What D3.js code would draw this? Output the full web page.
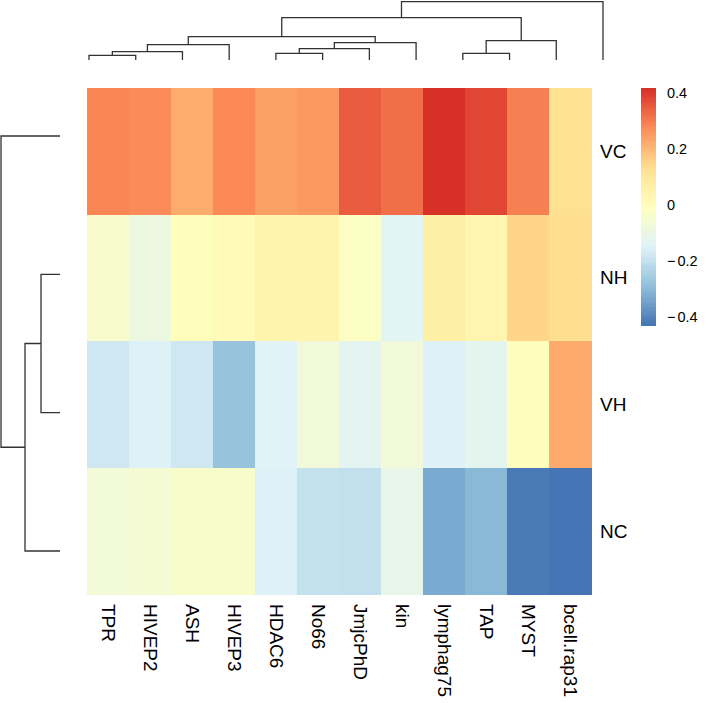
<!DOCTYPE html>
<html>
<head>
<meta charset="utf-8">
<script src="https://cdn.jsdelivr.net/npm/d3@7"></script>
<style>
  html, body { margin: 0; padding: 0; background: #fff; }
  svg { display: block; }
  text { font-family: "Liberation Sans", Arial, Helvetica, sans-serif; fill: #000; }
</style>
</head>
<body>
<svg id="chart" width="709" height="703"></svg>
<script>
// ---------------- data ----------------
const rowNames = ["VC", "NH", "VH", "NC"];
const colNames = ["TPR", "HIVEP2", "ASH", "HIVEP3", "HDAC6", "No66", "JmjcPhD", "kin",
                  "lymphag75", "TAP", "MYST", "bcell.rap31"];

const valuesVC = [0.287, 0.280, 0.225, 0.282, 0.247, 0.256, 0.351, 0.324, 0.418, 0.385, 0.297, 0.132];
const valuesNH = [-0.037, -0.086, 0.004, 0.018, 0.045, 0.047, -0.015, -0.135, 0.066, 0.040, 0.155, 0.138];
const valuesVH = [-0.178, -0.150, -0.178, -0.275, -0.142, -0.070, -0.127, -0.070, -0.150, -0.125, -0.002, 0.228];
const valuesNC = [-0.064, -0.055, -0.035, -0.035, -0.150, -0.195, -0.200, -0.110, -0.327, -0.299, -0.418, -0.427];

const legendTicks = [0.4, 0.2, 0, -0.2, -0.4];

// hclust-style merges (negative = leaf index, 1-based; positive = earlier merge)
const colMerge  = [[-1, -2], [1, -3], [2, -4], [-5, -6], [4, -7], [5, -8], [3, 6],
                   [-9, -10], [8, -11], [7, 9], [10, -12]];
const colHeight = [4.7, 8.3, 15.3, 6.7, 11.3, 17.3, 23.3, 6.7, 19.3, 42.3, 58.3];
const rowMerge  = [[-2, -3], [1, -4], [-1, 2]];
const rowHeight = [19, 35, 59];

const palette = ["#4575B4", "#91BFDB", "#E0F3F8", "#FFFFBF", "#FEE090", "#FC8D59", "#D73027"];

// ---------------- layout ----------------
const svg = d3.select("#chart");
svg.append("rect").attr("width", 709).attr("height", 703).attr("fill", "#fff");

const matrix = [valuesVC, valuesNH, valuesVH, valuesNC];
const cells = [];
matrix.forEach((row, i) => row.forEach((v, j) => cells.push({ r: rowNames[i], c: colNames[j], v })));

const lo = d3.min(cells, d => d.v), hi = d3.max(cells, d => d.v);
const color = d3.scaleLinear()
  .domain(d3.range(palette.length).map(i => lo + i * (hi - lo) / (palette.length - 1)))
  .range(palette)
  .interpolate(d3.interpolateRgb);

const x = d3.scaleBand().domain(colNames).range([87, 591]).paddingInner(0).paddingOuter(0);
const y = d3.scaleBand().domain(rowNames).range([88, 594.5]).paddingInner(0).paddingOuter(0);

// heatmap cells
svg.append("g").selectAll("rect").data(cells).join("rect")
  .attr("x", d => x(d.c))
  .attr("y", d => y(d.r))
  .attr("width", x.bandwidth() + 0.5)
  .attr("height", y.bandwidth() + 0.5)
  .attr("fill", d => color(d.v))
  .attr("shape-rendering", "crispEdges");

// row labels
svg.append("g").selectAll("text").data(rowNames).join("text")
  .attr("x", 600)
  .attr("y", d => y(d) + y.bandwidth() / 2)
  .attr("dominant-baseline", "central")
  .style("font-size", "19px")
  .text(d => d);

// column labels (rotated, reading top to bottom)
svg.append("g").selectAll("text").data(colNames).join("text")
  .attr("transform", d => `translate(${x(d) + x.bandwidth() / 2},604) rotate(90)`)
  .attr("dominant-baseline", "central")
  .style("font-size", "19px")
  .text(d => d);

// ---------------- dendrograms ----------------
function dendroSegments(merge, heights) {
  const pos = [], hgt = [];
  const paths = [];
  const getPos = (k, leafPos) => k < 0 ? [leafPos(-k - 1), 0] : [pos[k - 1], hgt[k - 1]];
  return function (leafPos) {
    merge.forEach((m, i) => {
      const [p1, h1] = getPos(m[0], leafPos);
      const [p2, h2] = getPos(m[1], leafPos);
      pos[i] = (p1 + p2) / 2;
      hgt[i] = heights[i];
      paths.push({ p1, h1, p2, h2, h: heights[i] });
    });
    return paths;
  };
}

// column dendrogram (top)
const colLeaf = d3.scaleLinear().domain([0, colNames.length - 1]).range([89, 603]);
const colH = d3.scaleLinear().domain([0, d3.max(colHeight)]).range([60, 1.7]);
const colSegs = dendroSegments(colMerge, colHeight)(i => colLeaf(i));
svg.append("g").selectAll("path").data(colSegs).join("path")
  .attr("d", s => `M${s.p1},${colH(s.h1)}V${colH(s.h)}H${s.p2}V${colH(s.h2)}`)
  .attr("fill", "none").attr("stroke", "#333").attr("stroke-width", 1.3);

// row dendrogram (left)
const rowLeaf = d3.scaleLinear().domain([0, rowNames.length - 1]).range([136, 551]);
const rowH = d3.scaleLinear().domain([0, d3.max(rowHeight)]).range([60, 1]);
const rowSegs = dendroSegments(rowMerge, rowHeight)(i => rowLeaf(i));
svg.append("g").selectAll("path").data(rowSegs).join("path")
  .attr("d", s => `M${rowH(s.h1)},${s.p1}H${rowH(s.h)}V${s.p2}H${rowH(s.h2)}`)
  .attr("fill", "none").attr("stroke", "#333").attr("stroke-width", 1.3);

// ---------------- legend ----------------
const legY = d3.scaleLinear().domain([lo, hi]).range([325, 88.3]);
const nSteps = 100;
const steps = d3.range(nSteps).map(i => lo + (i + 0.5) * (hi - lo) / nSteps);
const stepH = (legY(lo) - legY(hi)) / nSteps;
svg.append("g").selectAll("rect").data(steps).join("rect")
  .attr("x", 640.7)
  .attr("y", d => legY(d) - stepH / 2)
  .attr("width", 15.3)
  .attr("height", stepH + 0.6)
  .attr("fill", d => color(d))
  .attr("shape-rendering", "crispEdges");

const fmt = v => v < 0 ? "\u2212" + Math.abs(v) : String(v);
svg.append("g").selectAll("text").data(legendTicks).join("text")
  .attr("x", 667)
  .attr("y", d => legY(d))
  .attr("dx", d => d < 0 ? "0 2" : null)
  .attr("dominant-baseline", "central")
  .style("font-size", "14.5px")
  .text(d => fmt(d));
</script>
</body>
</html>
